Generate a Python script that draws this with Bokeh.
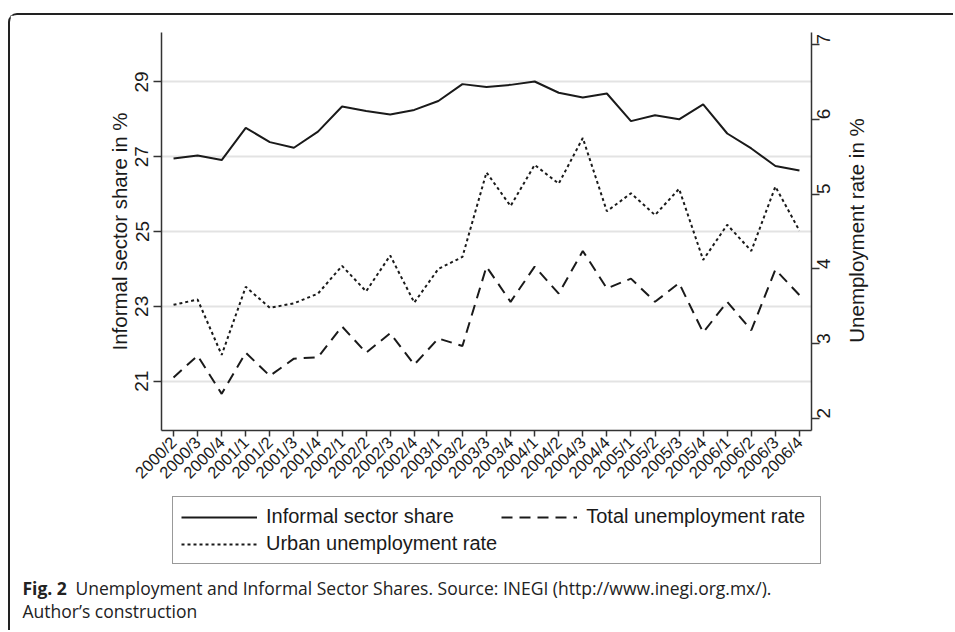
import math
from bokeh.plotting import figure
from bokeh.layouts import column, row
from bokeh.models import (Range1d, LinearAxis, FixedTicker, Legend, LegendItem,
                          Label, FactorRange)
from bokeh.embed import file_html
from bokeh.resources import INLINE

quarters = ["2000/2", "2000/3", "2000/4",
            "2001/1", "2001/2", "2001/3", "2001/4",
            "2002/1", "2002/2", "2002/3", "2002/4",
            "2003/1", "2003/2", "2003/3", "2003/4",
            "2004/1", "2004/2", "2004/3", "2004/4",
            "2005/1", "2005/2", "2005/3", "2005/4",
            "2006/1", "2006/2", "2006/3", "2006/4"]

informal_share = [26.95, 27.03, 26.91, 27.77, 27.39, 27.24, 27.67, 28.34, 28.22, 28.13,
                  28.25, 28.49, 28.94, 28.86, 28.92, 29.01, 28.71, 28.58, 28.69, 27.95,
                  28.11, 28.00, 28.40, 27.62, 27.22, 26.75, 26.63]
total_unemployment = [2.55, 2.84, 2.33, 2.88, 2.57, 2.80, 2.82, 3.23, 2.88, 3.14,
                      2.72, 3.07, 2.97, 4.03, 3.56, 4.03, 3.67, 4.24, 3.74, 3.87,
                      3.56, 3.81, 3.15, 3.56, 3.18, 3.99, 3.65]
urban_unemployment = [3.52, 3.59, 2.85, 3.76, 3.48, 3.54, 3.67, 4.04, 3.70, 4.18,
                      3.55, 4.00, 4.16, 5.29, 4.84, 5.39, 5.14, 5.75, 4.77, 5.01,
                      4.72, 5.07, 4.12, 4.59, 4.24, 5.10, 4.51]

left_ticks = [21, 23, 25, 27, 29]
right_ticks = [2, 3, 4, 5, 6, 7]
series_names = ["Informal sector share", "Total unemployment rate", "Urban unemployment rate"]
left_title = "Informal sector share in %"
right_title = "Unemployment rate in %"
caption_bold = "Fig. 2"
caption_line1 = "Unemployment and Informal Sector Shares. Source: INEGI (http://www.inegi.org.mx/)."
caption_line2 = "Author\u2019s construction"

FONT = "Liberation Sans"
CAP_FONT = "Open Sans"
INK = "#1a1a1a"
AX = "#333333"
FRAME = "2px solid #222222"
DASH_TOTAL = "11 7"
DASH_URBAN = "3 3"

W_MAIN = 835
W_SIDE = 110
H_TOP = 481
W_BOTTOM = 945
H_BOTTOM = 136


def bare(fig):
    fig.axis.visible = False
    fig.grid.visible = False
    fig.frame_align = False


# ---------------- main chart ----------------
p = figure(width=W_MAIN, height=H_TOP,
           x_range=FactorRange(factors=quarters, range_padding=0),
           y_range=Range1d(19.68, 30.32),
           output_backend="svg", toolbar_location=None,
           min_border_left=151, min_border_right=34,
           min_border_top=17, min_border_bottom=66,
           background_fill_color="white", border_fill_color="white",
           outline_line_color=None)
p.frame_align = False
p.margin = (13, 0, 0, 8)
p.styles = {"border-top": FRAME, "border-left": FRAME, "border-top-left-radius": "9px"}
p.extra_y_ranges = {"unemp": Range1d(1.84, 7.16)}

p.line(quarters, informal_share, line_color=INK, line_width=2)
p.line(quarters, total_unemployment, y_range_name="unemp",
       line_color=INK, line_width=2, line_dash=DASH_TOTAL)
p.line(quarters, urban_unemployment, y_range_name="unemp",
       line_color=INK, line_width=2, line_dash=DASH_URBAN)

p.xgrid.visible = False
p.ygrid.ticker = FixedTicker(ticks=left_ticks)
p.ygrid.grid_line_color = "#e3e3e3"
p.ygrid.grid_line_width = 2


def style_axis(ax, fs="19px"):
    ax.axis_line_color = AX
    ax.axis_line_width = 1.5
    ax.major_tick_line_color = AX
    ax.major_tick_line_width = 1.5
    ax.major_tick_out = 8
    ax.major_tick_in = 0
    ax.minor_tick_line_color = None
    ax.major_label_text_font = FONT
    ax.major_label_text_font_size = fs
    ax.major_label_text_color = INK
    ax.axis_label_text_font = FONT
    ax.axis_label_text_font_size = "20.5px"
    ax.axis_label_text_font_style = "normal"
    ax.axis_label_text_color = INK


yl = p.yaxis[0]
yl.ticker = FixedTicker(ticks=left_ticks)
yl.axis_label = left_title
style_axis(yl)
yl.major_label_orientation = "vertical"
yl.major_label_standoff = 5
yl.axis_label_standoff = 2

yr = LinearAxis(y_range_name="unemp", ticker=FixedTicker(ticks=right_ticks))
style_axis(yr)
yr.major_label_orientation = math.pi / 2
yr.major_label_standoff = 4
p.add_layout(yr, "right")

xa = p.xaxis[0]
style_axis(xa, fs="16.5px")
xa.major_tick_out = 6
xa.major_label_orientation = math.pi / 4
xa.major_label_standoff = 3

# ---------------- right title strip ----------------
r = figure(width=W_SIDE, height=H_TOP, x_range=Range1d(0, 1), y_range=Range1d(0, 1),
           output_backend="svg", toolbar_location=None,
           min_border=0, min_border_left=0, min_border_right=0,
           min_border_top=0, min_border_bottom=0,
           background_fill_color="white", border_fill_color="white",
           outline_line_color=None)
bare(r)
r.margin = (13, 0, 0, 0)
r.styles = {"border-top": FRAME}
r.add_layout(Label(x=13, y=266, x_units="screen", y_units="screen",
                   text=right_title, angle=math.pi / 2,
                   text_align="center", text_baseline="middle",
                   text_font=FONT, text_font_size="20.5px", text_color=INK))

# ---------------- legend + caption panel ----------------
q = figure(width=W_BOTTOM, height=H_BOTTOM,
           x_range=FactorRange(factors=quarters), y_range=Range1d(0, 1),
           output_backend="svg", toolbar_location=None,
           min_border=0, min_border_left=0, min_border_right=0,
           min_border_top=0, min_border_bottom=0,
           background_fill_color="white", border_fill_color="white",
           outline_line_color=None)
bare(q)
q.margin = (0, 0, 0, 8)
q.styles = {"border-left": FRAME}

# same series (outside this panel's range; they only feed the legend keys)
k1 = q.line(quarters, informal_share, line_color=INK, line_width=2)
k2 = q.line(quarters, total_unemployment, line_color=INK, line_width=2, line_dash=DASH_TOTAL)
k3 = q.line(quarters, urban_unemployment, line_color=INK, line_width=2, line_dash=DASH_URBAN)

legend = Legend(items=[
    LegendItem(label=series_names[0], renderers=[k1]),
    LegendItem(label=series_names[1], renderers=[k2]),
    LegendItem(label=series_names[2], renderers=[k3]),
], location=(162, 66), orientation="horizontal", ncols=2)
legend.label_text_font = FONT
legend.label_text_font_size = "20px"
legend.label_text_color = INK
legend.glyph_width = 76
legend.glyph_height = 20
legend.label_standoff = 9
legend.label_width = 226
legend.spacing = 4
legend.padding = 8
legend.margin = 0
legend.border_line_color = AX
legend.border_line_width = 1.5
legend.background_fill_alpha = 1
q.add_layout(legend)

q.add_layout(Label(x=12, y=31, x_units="screen", y_units="screen",
                   text=caption_bold, text_font=CAP_FONT, text_font_style="bold",
                   text_font_size="17.5px", text_color="#222222"))
q.add_layout(Label(x=65, y=31, x_units="screen", y_units="screen",
                   text=caption_line1, text_font=CAP_FONT,
                   text_font_size="17.5px", text_color="#222222"))
q.add_layout(Label(x=12, y=8, x_units="screen", y_units="screen",
                   text=caption_line2, text_font=CAP_FONT,
                   text_font_size="17.5px", text_color="#222222"))

layout = column(row(p, r, spacing=0), q, spacing=0)
open("out.html", "w").write(file_html(layout, INLINE))
